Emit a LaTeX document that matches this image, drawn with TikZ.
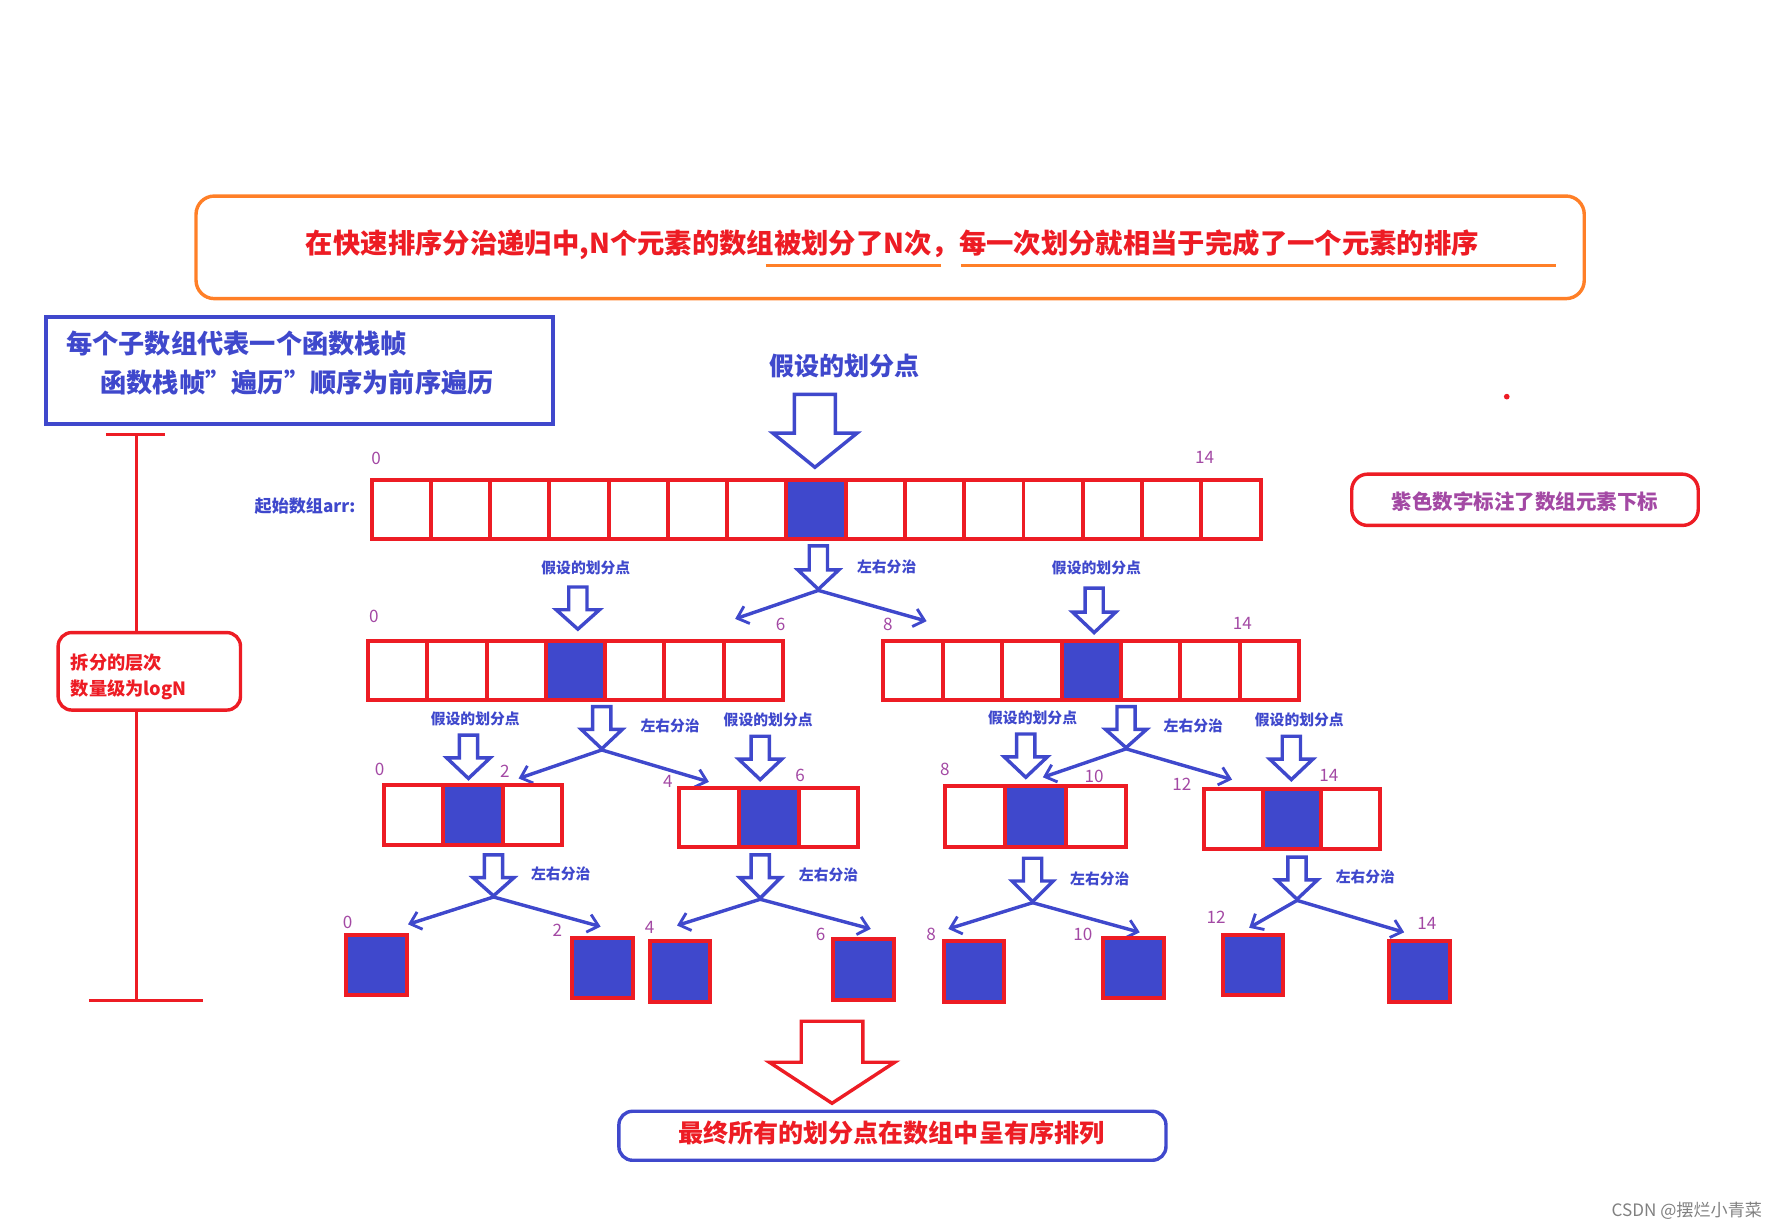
\documentclass[tikz,border=0pt]{standalone}
\usepackage{fontspec}
\setmainfont{Noto Sans CJK SC}
\usetikzlibrary{arrows.meta}
\definecolor{cred}{HTML}{ED1C24}
\definecolor{cblue}{HTML}{3F48CC}
\definecolor{corange}{HTML}{FF7F27}
\definecolor{cpurple}{HTML}{A349A4}
\tikzset{
 idx/.style={text=cpurple,font=\fontsize{15}{15}\selectfont,inner sep=0pt},
 small/.style={text=cblue,font=\bfseries\fontsize{13}{13}\selectfont,inner sep=0pt},
 forkline/.style={draw=cblue,line width=3pt,-{Straight Barb[length=9pt,width=16pt,line width=2.5pt]}},
 cellbox/.style={draw=cred,line width=3.5pt},
}
% hollow arrow: x, top y, shaft bottom y, tip y, half shaft, half head, colour
\newcommand{\hollowarr}[7]{\draw[#7,line width=3pt,line join=miter,fill=white]
 (#1-#5,#2)--(#1+#5,#2)--(#1+#5,#3)--(#1+#6,#3)--(#1,#4)--(#1-#6,#3)--(#1-#5,#3)--cycle;}
% array: x0, y0, n cells, cell width, height, highlighted index
\newcommand{\myarray}[6]{%
 \foreach \i in {1,...,#3}{\pgfmathtruncatemacro\k{\i-1}
  \ifnum\k=#6 \fill[cblue] (#1+\k*#4,#2) rectangle ++(#4,#5);\fi
  \draw[cellbox] (#1+\k*#4,#2) rectangle ++(#4,#5);}}
\begin{document}
\begin{tikzpicture}[x=1pt,y=-1pt]
\useasboundingbox (0,0) rectangle (1560,1074);
% title
\draw[corange,line width=3pt,rounded corners=16pt] (172,172) rectangle (1390,262);
\node[text=cred,font=\bfseries\fontsize{24}{24}\selectfont,inner sep=0pt] (title) at (783,215) {在快速排序分治递归中,N个元素的数组被划分了N次，每一次划分就相当于完成了一个元素的排序};
\draw[corange,line width=3pt] (672,233) -- (826,233) (843,233) -- (1365,233);
% blue note
\draw[cblue,line width=3.5pt] (40,278) rectangle (485,372);
\node[anchor=west,text=cblue,font=\bfseries\fontsize{23}{23}\selectfont,inner sep=0pt] (n1) at (58,301) {每个子数组代表一个函数栈帧};
\node[anchor=west,text=cblue,font=\bfseries\fontsize{23}{23}\selectfont,inner sep=0pt] (n2) at (88,336) {函数栈帧"遍历"顺序为前序遍历};
% level bar
\draw[cred,line width=3pt] (93,381)--(145,381) (120,381)--(120,878) (78,878)--(178,878);
\draw[cred,line width=3pt,rounded corners=12pt,fill=white] (51,555) rectangle (211,623);
\node[anchor=west,text=cred,font=\bfseries\fontsize{16}{16}\selectfont,inner sep=0pt] (lv1) at (62,581) {拆分的层次};
\node[anchor=west,text=cred,font=\bfseries\fontsize{16}{16}\selectfont,inner sep=0pt] (lv2) at (62,605) {数量级为logN};
% legend
\draw[cred,line width=3pt,rounded corners=14pt] (1186,416) rectangle (1490,461);
\node[text=cpurple,font=\bfseries\fontsize{18}{18}\selectfont,inner sep=0pt] (leg) at (1338,440) {紫色数字标注了数组元素下标};
\fill[cred] (1322,348) circle (2.5);
% top
\node[text=cblue,font=\bfseries\fontsize{22}{22}\selectfont,inner sep=0pt] (p0) at (741,321) {假设的划分点};
\hollowarr{715}{346}{380}{410}{18}{37}{cblue}
\node[anchor=east,small,font=\bfseries\fontsize{15}{15}\selectfont] (arr) at (312,444) {起始数组arr:};
\myarray{326}{421}{15}{52}{52}{7}
\node[idx] at (330,402) {0};
\node[idx] at (1057,401) {14};
% level 1
\hollowarr{718}{479}{500}{517}{8}{18}{cblue}
\coordinate (f1) at (718,518);
\coordinate (f1a) at (645,543); \coordinate (f1b) at (813,545);
\draw[forkline] (f1) -- (f1a); \draw[forkline] (f1) -- (f1b);
\node[small] at (778,497) {左右分治};
\node[idx] at (685,548) {6}; \node[idx] at (779,548) {8};
\myarray{323}{562}{7}{52}{52}{3}
\myarray{775}{562}{7}{52.14}{52}{3}
\node[idx] at (328,541) {0}; \node[idx] at (1090,547) {14};
\node[small] at (514,498) {假设的划分点};
\hollowarr{507}{515}{535}{552}{8}{19}{cblue}
\node[small] at (962,498) {假设的划分点};
\hollowarr{960}{516}{537}{555}{8}{19}{cblue}
% level 2 forks
\hollowarr{528}{620}{640}{657}{8}{18}{cblue}
\coordinate (f2) at (528,658);
\draw[forkline] (f2) -- (455,683); \draw[forkline] (f2) -- (622,686);
\node[small] at (588,637) {左右分治};
\hollowarr{988}{620}{640}{656}{8}{18}{cblue}
\coordinate (f3) at (988,657);
\draw[forkline] (f3) -- (915,682); \draw[forkline] (f3) -- (1081,684);
\node[small] at (1047,637) {左右分治};
% level 2 arrays
\myarray{337}{689}{3}{52}{52}{1}
\node[idx] at (333,675) {0}; \node[idx] at (443,677) {2};
\node[small] at (417,631) {假设的划分点};
\hollowarr{411}{645}{665}{683}{8}{19}{cblue}
\myarray{596}{691}{3}{52.3}{52}{1}
\node[idx] at (586,686) {4}; \node[idx] at (702,680) {6};
\node[small] at (674,632) {假设的划分点};
\hollowarr{667}{646}{666}{684}{8}{19}{cblue}
\myarray{829}{690}{3}{53}{53}{1}
\node[idx] at (829,675) {8}; \node[idx] at (960,681) {10};
\node[small] at (906,630) {假设的划分点};
\hollowarr{900}{644}{664}{682}{8}{19}{cblue}
\myarray{1056}{692}{3}{51.7}{53}{1}
\node[idx] at (1037,688) {12}; \node[idx] at (1166,680) {14};
\node[small] at (1140,632) {假设的划分点};
\hollowarr{1133}{646}{666}{684}{8}{19}{cblue}
% level 3 forks
\hollowarr{433}{750}{770}{786}{8}{18}{cblue}
\draw[forkline] (433,787) -- (358,811); \draw[forkline] (433,787) -- (527,813);
\node[small] at (492,767) {左右分治};
\hollowarr{667}{750}{770}{788}{8}{18}{cblue}
\draw[forkline] (667,789) -- (594,812); \draw[forkline] (667,789) -- (764,815);
\node[small] at (727,768) {左右分治};
\hollowarr{906}{753}{773}{791}{8}{18}{cblue}
\draw[forkline] (906,792) -- (832,815); \draw[forkline] (906,792) -- (1000,818);
\node[small] at (965,771) {左右分治};
\hollowarr{1138}{752}{772}{789}{8}{18}{cblue}
\draw[forkline] (1138,790) -- (1096,814); \draw[forkline] (1138,790) -- (1232,818);
\node[small] at (1198,769) {左右分治};
% level 3 leaves
\foreach \x/\y/\l/\lx/\ly in {304/820/0/305/809, 502/823/2/489/816, 570/826/4/570/814, 731/824/6/720/820, 828/826/8/817/820, 968/823/10/950/820, 1073/820/12/1067/805, 1219/826/14/1252/810}{
 \fill[cblue] (\x,\y) rectangle ++(53,53);
 \draw[cellbox] (\x,\y) rectangle ++(53,53);
 \node[idx] at (\lx,\ly) {\l};}
% bottom
\hollowarr{730}{896}{932}{968}{27}{55}{cred}
\draw[cblue,line width=3pt,rounded corners=12pt] (543,975) rectangle (1023,1018);
\node[text=cred,font=\bfseries\fontsize{22}{22}\selectfont,inner sep=0pt] (fin) at (782,994) {最终所有的划分点在数组中呈有序排列};
\node[text=gray,font=\fontsize{15}{15}\selectfont,inner sep=0pt] (wm) at (1480,1062) {CSDN @摆烂小青菜};
\end{tikzpicture}
\end{document}
